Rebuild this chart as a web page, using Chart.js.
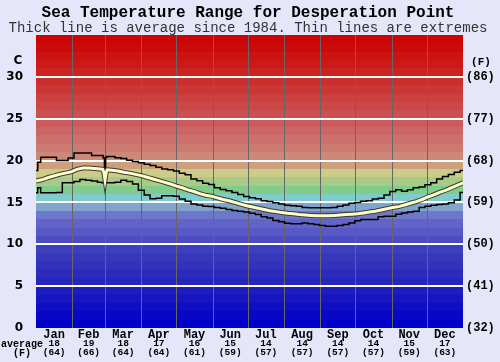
<!DOCTYPE html>
<html><head><meta charset="utf-8">
<script src="https://cdn.jsdelivr.net/npm/chart.js@4/dist/chart.umd.min.js"></script>
<style>html,body{margin:0;padding:0;background:#e6e6fa;}canvas{display:block}</style>
</head><body>
<canvas id="c" width="500" height="362"></canvas>
<script>
const titleText = "Sea Temperature Range for Desperation Point";
const subtitleText = "Thick line is average since 1984. Thin lines are extremes";
const months = ["Jan","Feb","Mar","Apr","May","Jun","Jul","Aug","Sep","Oct","Nov","Dec"];
const monthStarts = [0,31,59,90,120,151,181,212,243,273,304,334,365];
const monthAvgC = [18,19,18,17,16,15,14,14,14,14,15,17];
const monthAvgF = [64,66,64,64,61,59,57,57,57,57,59,63];
const yTicksC = [0,5,10,15,20,25,30];

const days = [0,3,5,10,15,20,25,30,35,40,45,50,55,57,58,59,60,61,65,70,75,80,85,90,95,100,105,110,115,120,125,130,135,140,145,150,155,160,165,170,175,180,185,190,195,200,205,210,215,220,225,230,235,240,245,250,255,260,265,270,275,280,285,290,295,300,305,310,315,320,325,330,335,340,345,350,355,360,365];
const avgTemp = [17.55,17.65,17.7,17.95,18.15,18.35,18.5,18.65,18.95,19.1,19.1,19.05,19.0,18.95,18.6,17.7,18.6,18.9,18.85,18.75,18.6,18.5,18.35,18.2,18.0,17.8,17.6,17.4,17.2,16.95,16.75,16.5,16.3,16.05,15.85,15.75,15.55,15.35,15.2,15.0,14.8,14.6,14.45,14.3,14.15,14.0,13.9,13.8,13.7,13.65,13.55,13.5,13.45,13.4,13.4,13.4,13.45,13.5,13.55,13.6,13.65,13.75,13.85,13.95,14.1,14.25,14.4,14.5,14.7,14.9,15.1,15.35,15.65,15.9,16.2,16.45,16.75,17.05,17.35];
const maxTemp = [18.8,19.8,20.4,20.4,20.4,20.0,20.0,20.3,20.9,20.9,20.9,20.6,20.6,20.6,20.3,19.1,20.4,20.5,20.5,20.35,20.25,20.05,19.9,19.75,19.55,19.4,19.2,19.0,18.9,18.75,18.5,18.3,17.8,17.6,17.3,17.15,16.75,16.55,16.4,16.2,15.95,15.7,15.55,15.45,15.2,15.1,14.95,14.8,14.65,14.6,14.55,14.4,14.35,14.35,14.35,14.35,14.4,14.55,14.7,14.9,15.0,15.15,15.2,15.4,15.5,15.9,16.3,16.5,16.35,16.5,16.75,16.85,17.1,17.35,17.8,18.1,18.35,18.6,18.8];
const minTemp = [16.15,16.75,16.15,16.15,16.15,16.2,17.35,17.35,17.5,17.75,17.65,17.55,17.4,17.35,17.35,17.35,17.35,17.35,17.35,17.4,17.65,17.5,17.2,16.45,15.9,15.45,15.5,15.8,15.8,15.75,15.4,15.15,14.8,14.7,14.55,14.5,14.4,14.3,14.15,14.05,13.95,13.85,13.7,13.55,13.3,13.15,12.85,12.7,12.5,12.45,12.45,12.55,12.45,12.35,12.25,12.15,12.15,12.25,12.35,12.55,12.8,12.95,12.95,12.95,13.3,13.35,13.35,13.6,13.75,13.85,13.95,14.4,14.55,14.65,14.75,14.8,14.95,15.3,16.2];

// background band colours, one per 1 degree C from 0 upward
const bandColors = ["#0000c8","#0707c6","#0e0ec4","#1515c2","#1c1cc0","#2626be","#2c2cbc","#3232bc","#3838bc","#3e3ebe",
 "#4c4cc2","#5858c6","#6464c8","#6e78ca","#80a4cc","#80cccc","#80cc8c","#a8cc88","#cccc88","#cca07c",
 "#cc8878","#cc7a72","#cc706c","#cc6666","#cc5c5c","#cc5050","#cc4848","#cc4040","#cc3636","#cc2e2e",
 "#cc2222","#cc1a1a","#cc1212","#cc0a0a","#cc0404"];

const toF = c => Math.round(c*9/5+32);
const mono = "'Liberation Mono', 'Courier New', monospace";

const deco = {
  id: 'deco',
  beforeDraw(chart) {
    const {ctx, chartArea: a, scales: {x, y}} = chart;
    ctx.save();
    for (let i = 0; i < bandColors.length; i++) {
      const t = Math.round(y.getPixelForValue(i + 1));
      const b = Math.round(y.getPixelForValue(i));
      ctx.fillStyle = bandColors[i];
      ctx.fillRect(a.left, Math.max(t, a.top), a.right - a.left, b - Math.max(t, a.top));
    }
    ctx.strokeStyle = '#666666';
    ctx.lineWidth = 1;
    for (let i = 1; i < monthStarts.length - 1; i++) {
      const px = Math.round(x.getPixelForValue(monthStarts[i])) + 0.5;
      ctx.beginPath(); ctx.moveTo(px, a.top); ctx.lineTo(px, a.bottom); ctx.stroke();
    }
    ctx.restore();
  },
  afterDraw(chart) {
    const {ctx, scales: {x}} = chart;
    ctx.save();
    ctx.textAlign = 'center';
    ctx.textBaseline = 'middle';
    ctx.fillStyle = '#000';
    ctx.font = "bold 16px " + mono;
    ctx.fillText(titleText, 248, 13);
    ctx.fillStyle = '#333';
    ctx.font = "14px " + mono;
    ctx.fillText(subtitleText, 248, 28);
    ctx.fillStyle = '#000';
    ctx.font = "bold 12px 'DejaVu Sans', sans-serif";
    ctx.fillText("C", 18, 61);
    ctx.font = "bold 11px " + mono;
    ctx.fillText("(F)", 481, 62);
    ctx.font = "bold 9.5px " + mono;
    for (let i = 0; i < months.length; i++) {
      const cx = x.getPixelForValue((monthStarts[i] + monthStarts[i + 1]) / 2);
      ctx.fillText(String(monthAvgC[i]), cx, 344);
      ctx.fillText("(" + monthAvgF[i] + ")", cx, 353);
    }
    ctx.font = "bold 10px " + mono;
    ctx.fillText("average", 22, 344);
    ctx.fillText("(F)", 22, 353);
    ctx.restore();
  }
};

const pts = arr => days.map((d, i) => ({x: d, y: arr[i]}));

new Chart(document.getElementById('c'), {
  type: 'line',
  data: {
    datasets: [
      {data: pts(avgTemp), borderColor: '#ffffc4', borderWidth: 3, pointRadius: 0, tension: 0, yAxisID: 'y', order: 1},
      {data: pts(avgTemp), borderColor: '#3a3a3a', borderWidth: 5, pointRadius: 0, tension: 0, yAxisID: 'y', order: 2},
      {data: pts(maxTemp), borderColor: '#000', borderWidth: 1.5, stepped: 'middle', pointRadius: 0, yAxisID: 'y', order: 3},
      {data: pts(minTemp), borderColor: '#000', borderWidth: 1.5, stepped: 'middle', pointRadius: 0, yAxisID: 'y', order: 4}
    ]
  },
  options: {
    responsive: false,
    devicePixelRatio: 1,
    animation: false,
    layout: {padding: {top: 35, left: 0, right: 0, bottom: 0}},
    plugins: {legend: {display: false}, tooltip: {enabled: false}, title: {display: false}},
    scales: {
      x: {
        type: 'linear', min: 0, max: 365, position: 'bottom',
        grid: {display: false, drawTicks: false},
        border: {display: false},
        afterBuildTicks: s => { s.ticks = months.map((m, i) => ({value: (monthStarts[i] + monthStarts[i + 1]) / 2})); },
        afterFit: s => { s.height = 34; },
        ticks: {callback: (v, i) => months[i], color: '#000', font: {family: mono, size: 12, weight: 'bold'}, padding: 0, maxRotation: 0, autoSkip: false}
      },
      y: {
        type: 'linear', min: 0, max: 35, position: 'left',
        afterBuildTicks: s => { s.ticks = yTicksC.map(v => ({value: v})); },
        afterFit: s => { s.width = 36; },
        grid: {color: c => (c.tick && c.tick.value === 0) ? 'rgba(0,0,0,0)' : '#ffffff', lineWidth: 2, drawTicks: false},
        border: {display: false},
        ticks: {color: '#000', font: {family: "'DejaVu Sans', sans-serif", size: 12, weight: 'bold'}, padding: 13}
      },
      y2: {
        type: 'linear', min: 0, max: 35, position: 'right',
        afterBuildTicks: s => { s.ticks = yTicksC.map(v => ({value: v})); },
        afterFit: s => { s.width = 37; },
        grid: {display: false, drawTicks: false},
        border: {display: false},
        ticks: {callback: v => "(" + toF(v) + ")", color: '#000', font: {family: mono, size: 12, weight: 'bold'}, padding: 3}
      }
    }
  },
  plugins: [deco]
});
</script>
</body></html>
